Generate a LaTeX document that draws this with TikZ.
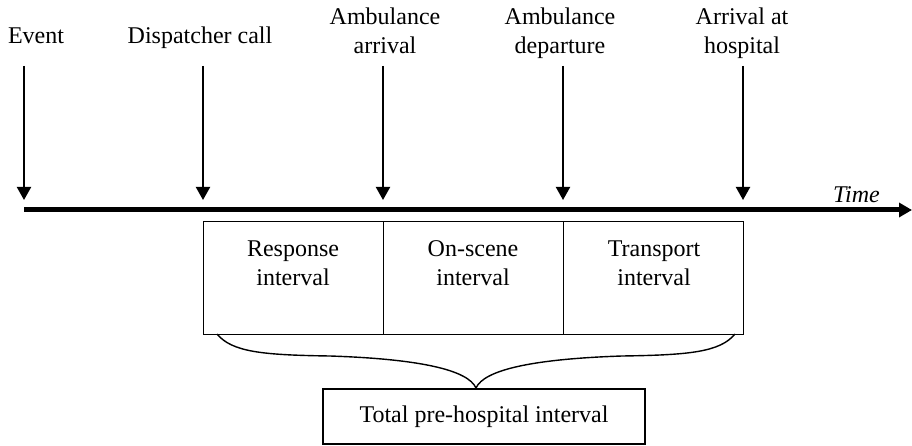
\documentclass[tikz,border=0pt]{standalone}
\usepackage{fontspec}
\setmainfont{Liberation Serif}
\usetikzlibrary{arrows.meta}
\begin{document}
\begin{tikzpicture}[x=1pt,y=-1pt,
  lbl/.style={font=\fontsize{24}{29}\selectfont, align=center, inner sep=0pt},
  evarrow/.style={line width=2pt, -{Triangle[length=13pt,width=14pt]}},
  axisline/.style={line width=5pt, -{Triangle[length=13pt,width=14pt]}},
  ibox/.style={draw, line width=1pt, minimum width=180pt, minimum height=113pt, inner sep=0pt, anchor=north west},
  tbox/.style={draw, line width=1.1pt, minimum width=322pt, minimum height=55pt, inner sep=0pt, font=\fontsize{24}{29}\selectfont},
  bracestyle/.style={line width=1.4pt}]
\useasboundingbox (0,0) rectangle (912,446);
% labels
\node[lbl, anchor=base] (lev) at (36,44) {Event};
\node[lbl, anchor=base] (ldc) at (200,44) {Dispatcher call};
\node[lbl, anchor=base] (laa) at (385,54) {Ambulance\\arrival};
\node[lbl, anchor=base] (lad) at (560,54) {Ambulance\\departure};
\node[lbl, anchor=base] (lah) at (742,54) {Arrival at\\hospital};
% arrow coordinates
\foreach \n/\x in {a/24, b/203, c/383, d/563, e/743}{
  \coordinate (\n top) at (\x,66);
  \coordinate (\n tip) at (\x,200);
  \draw[evarrow] (\n top) -- (\n tip);
}
% time axis
\coordinate (ax0) at (24,210);
\coordinate (ax1) at (912,210);
\draw[axisline] (ax0) -- (ax1);
\node[font=\fontsize{24}{29}\selectfont\itshape, anchor=base west, inner sep=0pt] (time) at (833,203) {Time};
% interval boxes
\node[ibox] (r1) at (203,221) {};
\node[ibox] (r2) at (383,221) {};
\node[ibox] (r3) at (563,221) {};
\node[lbl, anchor=base] (t1) at (293,285) {Response\\interval};
\node[lbl, anchor=base] (t2) at (473,285) {On-scene\\interval};
\node[lbl, anchor=base] (t3) at (654,285) {Transport\\interval};
% total box
\node[tbox] (tot) at (484,416.5) {Total pre-hospital interval};
% brace
\coordinate (bl) at (217,334);
\coordinate (br) at (735,334);
\coordinate (bt) at (476,388);
\draw[bracestyle] (bl) .. controls (232,352) and (262,355) .. (330,356)
  .. controls (420,359) and (468,370) .. (bt)
  .. controls (484,370) and (532,359) .. (622,356)
  .. controls (690,355) and (720,352) .. (br);
\end{tikzpicture}
\end{document}
